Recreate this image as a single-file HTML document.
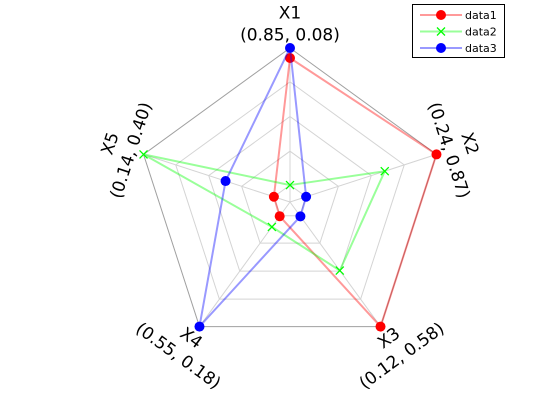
<!DOCTYPE html>
<html><head><meta charset="utf-8"><style>
body{margin:0;background:#fff}
svg{display:block;font-family:"DejaVu Sans","Liberation Sans",sans-serif}
</style></head><body>
<svg id="chart" width="560" height="420"></svg>
<script>
const axesLabels=["X1","X2","X3","X4","X5"];
const axesRanges=["(0.85, 0.08)","(0.24, 0.87)","(0.12, 0.58)","(0.55, 0.18)","(0.14, 0.40)"];
const seriesNames=["data1","data2","data3"];
const data1=[0.935,1.0,1.0,0.114,0.11];
const data2=[0.11,0.647,0.55,0.2,1.0];
const data3=[1.0,0.11,0.115,1.0,0.44];
const ringLevels=[0.11,0.33,0.555,0.78,1.0];
const NS="http://www.w3.org/2000/svg";
const svg=document.getElementById('chart');
const cx=290,cy=202,R=154;
function ang(i){return Math.PI/2-i*2*Math.PI/5;}
function pt(i,r){return [cx+R*r*Math.cos(ang(i)),cy-R*r*Math.sin(ang(i))];}
function mk(t,a,p){const e=document.createElementNS(NS,t);for(const k in a)e.setAttribute(k,a[k]);(p||svg).appendChild(e);return e;}
ringLevels.forEach((l,j)=>{
 const pts=axesLabels.map((_,i)=>pt(i,l).join(',')).join(' ');
 const e=mk('polygon',{points:pts,fill:'none',stroke:l===1?'#a0a0a0':'#d4d4d4','stroke-width':1});
 
 
});
axesLabels.forEach((lab,i)=>{
 const p=pt(i,1);
 const e=mk('line',{x1:cx,y1:cy,x2:p[0],y2:p[1],stroke:'#d4d4d4','stroke-width':1});
 
 
 const rot=[0,72,-36,36,-72][i];
 const c=pt(i,1.16);
 const g=mk('g',{transform:`translate(${c[0]},${c[1]}) rotate(${rot})`});
 
 
 const t1=mk('text',{x:0,y:-5,'text-anchor':'middle','font-size':17},g);t1.textContent=lab;
 const t2=mk('text',{x:0,y:17,'text-anchor':'middle','font-size':17},g);t2.textContent=axesRanges[i];
});
const allSeries=[data1,data2,data3];
const cols=['rgba(255,0,0,0.4)','rgba(0,255,0,0.4)','rgba(0,0,255,0.4)'];
const mcols=['#ff0000','#00ff00','#0000ff'];
allSeries.forEach((d,s)=>{
 const pts=d.map((v,i)=>pt(i,v));
 const e=mk('polygon',{points:pts.map(p=>p.join(',')).join(' '),fill:'none',stroke:cols[s],'stroke-width':2});
 
 
 pts.forEach(p=>{
  let m;
  if(s===1){m=mk('path',{d:`M${p[0]-4},${p[1]-4}L${p[0]+4},${p[1]+4}M${p[0]-4},${p[1]+4}L${p[0]+4},${p[1]-4}`,stroke:mcols[s],'stroke-width':1.3});}
  else{m=mk('circle',{cx:p[0],cy:p[1],r:5,fill:mcols[s]});}
  
  
 });
});
const lg=mk('g',{});


mk('rect',{x:412.5,y:4.5,width:92,height:53,fill:'#fff',stroke:'#000','stroke-width':1},lg);
seriesNames.forEach((n,s)=>{
 const y=15+s*16.5;
 const en=mk('g',{},lg);
 
 
 mk('line',{x1:420,y1:y,x2:462,y2:y,stroke:cols[s],'stroke-width':2},en);
 if(s===1)mk('path',{d:`M437,${y-4}L445,${y+4}M437,${y+4}L445,${y-4}`,stroke:mcols[s],'stroke-width':1.3},en);
 else mk('circle',{cx:441,cy:y,r:5,fill:mcols[s]},en);
 const t=mk('text',{x:465,y:y+4,'font-size':11},en);t.textContent=n;
});
</script>
</body></html>
